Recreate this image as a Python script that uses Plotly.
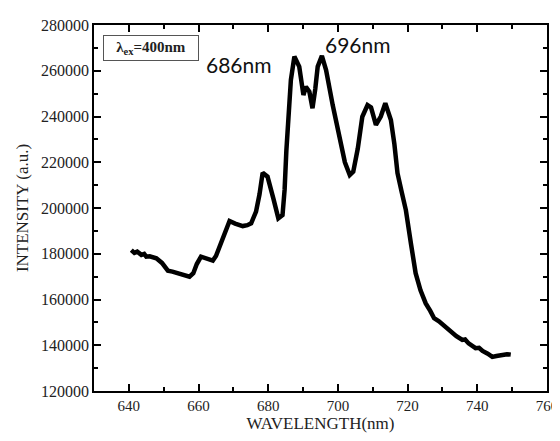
import plotly.graph_objects as go

wavelength = [640.7, 641.6, 642.4, 643.6, 644.4, 645.0, 646.0, 647.9, 649.5, 651.2, 652.5, 654.0, 655.8, 657.4,
              658.5, 659.5, 660.7, 662.2, 664.1, 665.0, 666.0, 667.5, 668.9, 670.5, 672.7, 674.0, 675.1, 676.5,
              677.5, 678.4, 679.8, 681.5, 682.9, 684.1, 684.7, 685.2, 686.5, 687.5, 688.9, 690.1, 690.8, 691.8,
              692.7, 693.5, 694.2, 695.4, 696.6, 698.5, 700.4, 702.0, 703.4, 704.4, 705.7, 707.0, 708.5, 709.5,
              710.9, 712.3, 713.6, 715.2, 716.2, 717.1, 718.3, 719.5, 721.0, 722.3, 723.7, 725.2, 726.5, 727.6,
              729.0, 730.5, 731.9, 733.0, 734.0, 735.7, 736.5, 737.5, 738.5, 739.5, 740.5, 741.5, 743.0, 744.3,
              745.5, 746.5, 747.5, 748.5, 749.6]
intensity = [181600, 180400, 180900, 179500, 179900, 178700, 178900, 178000, 176000, 172600, 172200, 171500,
             170800, 170000, 171500, 175500, 178700, 177800, 177000, 179000, 183100, 189000, 194300, 193200,
             192100, 192500, 193300, 198400, 206000, 215400, 213700, 204000, 195500, 196900, 208000, 225000,
             256000, 266200, 261800, 249400, 253000, 250900, 243600, 252000, 261800, 266500, 260300, 245000,
             232000, 220000, 214400, 215900, 226000, 239900, 245000, 244000, 236300, 240000, 245800, 238500,
             228000, 215200, 207000, 199100, 184000, 171500, 164000, 158300, 155000, 151800, 150500, 148500,
             146700, 145800, 144000, 142300, 142500, 140800, 140000, 138700, 138900, 137500, 136300, 134900,
             135300, 135600, 135500, 136100, 135900]

x_range = [630, 760]
y_range = [120000, 280000]
x_title = "WAVELENGTH(nm)"
y_title = "INTENSITY (a.u.)"
legend_text = "λ<sub>ex</sub>=400nm"
peak_labels = ["686nm", "696nm"]

fig = go.Figure()
fig.add_trace(go.Scatter(x=wavelength, y=intensity, mode="lines",
                         line=dict(color="black", width=4.5), showlegend=False))

serif = "Liberation Serif, Times New Roman, serif"
axis_common = dict(showline=True, linecolor="black", linewidth=1.5, mirror="allticks",
                   ticks="inside", ticklen=7, tickwidth=1.5, tickcolor="black",
                   showgrid=False, zeroline=False, automargin=False)

# page body has an 8px default margin: size the figure so the page does not overflow
fig.update_layout(
    width=552, height=425,
    margin=dict(l=86, r=13, t=17, b=42),
    paper_bgcolor="white", plot_bgcolor="white",
    xaxis=dict(range=x_range, dtick=20, tick0=640, **axis_common,
               tickfont=dict(family=serif, size=15, color="#222"),
               minor=dict(ticks="inside", ticklen=4, dtick=10, tickcolor="black", tickwidth=1.5),
               title=dict(text=x_title, font=dict(family=serif, size=17, color="#222"), standoff=6)),
    yaxis=dict(range=y_range, dtick=20000, tickformat="d", **axis_common,
               tickfont=dict(family=serif, size=16, color="#222"),
               minor=dict(ticks="inside", ticklen=4, dtick=10000, tickcolor="black", tickwidth=1.5),
               title=dict(text=y_title, font=dict(family=serif, size=17, color="#222"), standoff=8)),
)

fig.add_annotation(xref="paper", yref="paper", x=0.1249, y=0.9358, text="<b>" + legend_text + "</b>",
                   showarrow=False, font=dict(family=serif, size=15, color="#222"),
                   bordercolor="#555", borderwidth=1, borderpad=2, width=90, height=20,
                   xanchor="center", yanchor="middle")
fig.add_annotation(xref="paper", yref="paper", x=0.319, y=0.893, text=peak_labels[0], showarrow=False,
                   font=dict(family="Lato, Open Sans, sans-serif", size=21, color="#111"),
                   xanchor="center", yanchor="middle")
fig.add_annotation(xref="paper", yref="paper", x=0.582, y=0.946, text=peak_labels[1], showarrow=False,
                   font=dict(family="Lato, Open Sans, sans-serif", size=21, color="#111"),
                   xanchor="center", yanchor="middle")

fig.write_html("out.html")
